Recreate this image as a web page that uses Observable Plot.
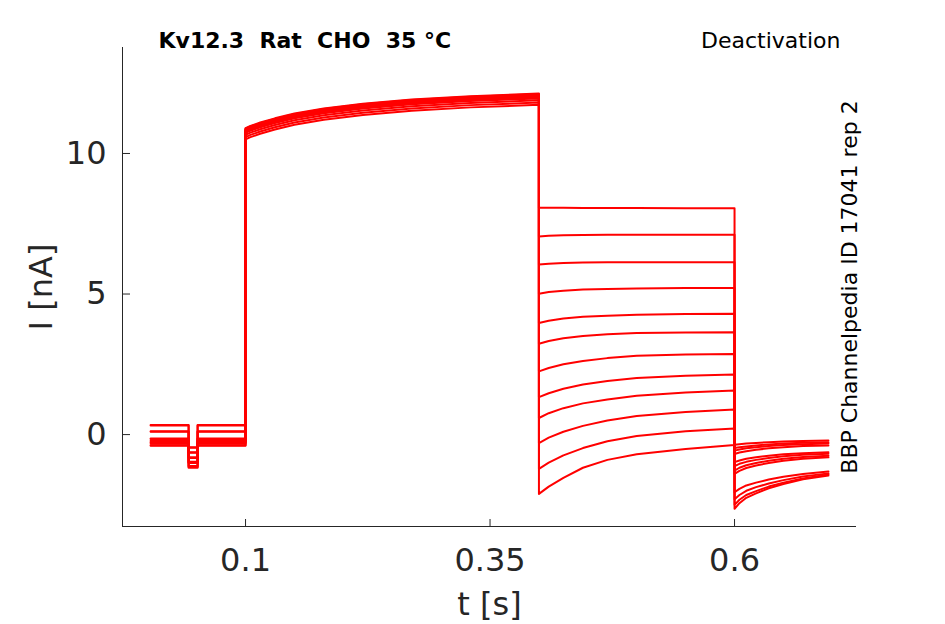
<!DOCTYPE html>
<html><head><meta charset="utf-8">
<script src="https://cdn.jsdelivr.net/npm/d3@7"></script>
<script src="https://cdn.jsdelivr.net/npm/@observablehq/plot@0.6"></script>
<style>body{margin:0;background:#fff}</style>
</head><body><div id="chart"></div>
<script>
const xTicks = [0.1, 0.35, 0.6];
const yTicks = [0, 5, 10];
const xDomain = [-0.0258, 0.7247];
const yDomain = [-3.27, 13.77];

const titleText = "Kv12.3\u00a0\u00a0Rat\u00a0\u00a0CHO\u00a0\u00a035\u00a0°C";
const protocolText = "Deactivation";
const idText = "BBP Channelpedia ID 17041 rep 2";

// baseline segment (with short test pulse)
const tBase = [0.003, 0.0418, 0.0418, 0.051, 0.051, 0.1];
const baseline = [0.34, 0.32, 0.12, 0.10, -0.14, -0.16, -0.22, -0.26, -0.28, -0.33, -0.38, -0.40];
const dip = [-0.45, -0.47, -0.63, -0.65, -0.81, -0.83, -0.97, -0.99, -1.01, -1.12, -1.15, -1.18];

// activation step
const tAct = [0.1, 0.105, 0.115, 0.13, 0.15, 0.18, 0.22, 0.27, 0.33, 0.4];
const act = [
  [10.90, 10.98, 11.10, 11.25, 11.42, 11.60, 11.77, 11.92, 12.04, 12.13],
  [10.88, 10.96, 11.08, 11.23, 11.40, 11.58, 11.75, 11.90, 12.02, 12.11],
  [10.86, 10.94, 11.06, 11.21, 11.38, 11.56, 11.73, 11.88, 12.00, 12.09],
  [10.84, 10.92, 11.04, 11.19, 11.36, 11.54, 11.71, 11.86, 11.98, 12.07],
  [10.82, 10.90, 11.02, 11.17, 11.34, 11.52, 11.69, 11.84, 11.96, 12.05],
  [10.80, 10.88, 11.00, 11.15, 11.32, 11.50, 11.67, 11.82, 11.94, 12.03],
  [10.78, 10.86, 10.98, 11.13, 11.30, 11.48, 11.65, 11.80, 11.92, 12.01],
  [10.76, 10.84, 10.96, 11.11, 11.28, 11.46, 11.63, 11.78, 11.90, 11.99],
  [10.73, 10.81, 10.93, 11.08, 11.25, 11.43, 11.60, 11.75, 11.87, 11.96],
  [10.66, 10.74, 10.86, 11.01, 11.18, 11.36, 11.53, 11.68, 11.80, 11.89],
  [10.58, 10.66, 10.78, 10.93, 11.10, 11.28, 11.45, 11.60, 11.72, 11.81],
  [10.50, 10.58, 10.70, 10.85, 11.02, 11.20, 11.37, 11.52, 11.64, 11.73]
];

// deactivation steps
const tDeact = [0.4, 0.41, 0.425, 0.445, 0.47, 0.5, 0.55, 0.6];
const deact = [
  [8.07, 8.07, 8.07, 8.06, 8.06, 8.06, 8.05, 8.05],
  [7.05, 7.07, 7.09, 7.10, 7.11, 7.11, 7.11, 7.11],
  [6.05, 6.08, 6.10, 6.12, 6.13, 6.13, 6.13, 6.13],
  [5.01, 5.07, 5.12, 5.16, 5.18, 5.20, 5.21, 5.21],
  [3.97, 4.05, 4.13, 4.19, 4.23, 4.26, 4.29, 4.30],
  [3.23, 3.33, 3.43, 3.51, 3.57, 3.61, 3.63, 3.64],
  [2.25, 2.37, 2.50, 2.62, 2.72, 2.80, 2.85, 2.87],
  [1.33, 1.47, 1.63, 1.78, 1.91, 2.01, 2.09, 2.14],
  [0.59, 0.76, 0.94, 1.11, 1.25, 1.38, 1.50, 1.57],
  [-0.30, -0.11, 0.10, 0.31, 0.50, 0.66, 0.80, 0.89],
  [-1.22, -1.00, -0.74, -0.48, -0.24, -0.05, 0.12, 0.22],
  [-2.11, -1.85, -1.54, -1.18, -0.90, -0.70, -0.51, -0.37]
];

// tail
const tTail = [0.6, 0.605, 0.612, 0.622, 0.635, 0.65, 0.67, 0.696];
const tail = [
  [-2.64, -2.44, -2.25, -2.09, -1.91, -1.76, -1.59, -1.46],
  [-2.50, -2.32, -2.15, -2.01, -1.85, -1.71, -1.56, -1.42],
  [-2.30, -2.15, -2.00, -1.87, -1.74, -1.62, -1.49, -1.38],
  [-2.05, -1.93, -1.81, -1.71, -1.60, -1.50, -1.40, -1.31],
  [-1.40, -1.29, -1.19, -1.10, -1.01, -0.93, -0.86, -0.81],
  [-1.28, -1.18, -1.09, -1.01, -0.93, -0.86, -0.80, -0.75],
  [-1.12, -1.04, -0.97, -0.90, -0.83, -0.77, -0.72, -0.68],
  [-0.98, -0.92, -0.86, -0.81, -0.75, -0.70, -0.66, -0.63],
  [-0.69, -0.64, -0.59, -0.54, -0.49, -0.45, -0.41, -0.39],
  [-0.57, -0.53, -0.49, -0.45, -0.41, -0.37, -0.34, -0.32],
  [-0.48, -0.45, -0.42, -0.39, -0.35, -0.32, -0.29, -0.27],
  [-0.36, -0.34, -0.32, -0.30, -0.27, -0.25, -0.23, -0.21]
];

const rows = [];
baseline.forEach((b, i) => {
  const baseVals = [b, b, dip[i], dip[i], b, b];
  tBase.forEach((t, j) => rows.push({sweep: i, t, I: baseVals[j]}));
  tAct.forEach((t, j) => rows.push({sweep: i, t, I: act[i][j]}));
  tDeact.forEach((t, j) => rows.push({sweep: i, t, I: deact[i][j]}));
  tTail.forEach((t, j) => rows.push({sweep: i, t, I: tail[i][j]}));
});

const W = 945, H = 624, mL = 122, mR = 89, mT = 47, mB = 98;
const innerW = W - mL - mR, innerH = H - mT - mB;
const axisColor = "#262626";

const chart = Plot.plot({
  width: W, height: H,
  marginLeft: mL, marginRight: mR, marginTop: mT, marginBottom: mB,
  style: {fontFamily: "DejaVu Sans", background: "#fff", color: axisColor, overflow: "visible"},
  x: {domain: xDomain},
  y: {domain: yDomain},
  marks: [
    Plot.line(rows, {x: "t", y: "I", z: "sweep", stroke: "#ff0000", strokeWidth: 2}),
    Plot.ruleX([xDomain[0]], {stroke: axisColor, strokeWidth: 1}),
    Plot.ruleY([yDomain[0]], {stroke: axisColor, strokeWidth: 1}),
    Plot.tickX(xTicks, {x: d => d, insetTop: innerH - 7, stroke: axisColor}),
    Plot.tickY(yTicks, {y: d => d, insetRight: innerW - 8, stroke: axisColor}),
    Plot.axisX(xTicks, {tickSize: 0, tickPadding: 22, fontSize: 32, tickFormat: d => String(d), label: null}),
    Plot.axisY(yTicks, {tickSize: 0, tickPadding: 16, fontSize: 32, label: null}),
    Plot.text(["t [s]"], {text: d => d, frameAnchor: "bottom", lineAnchor: "middle", textAnchor: "middle", dy: 78, fontSize: 32, fill: axisColor}),
    Plot.text(["I [nA]"], {text: d => d, frameAnchor: "left", lineAnchor: "middle", textAnchor: "middle", dx: -81, rotate: -90, fontSize: 32, fill: axisColor}),
    Plot.text([titleText], {text: d => d, frameAnchor: "top-left", lineAnchor: "middle", textAnchor: "start", dx: 36, dy: -7, fontSize: 22, fontWeight: "bold", fill: "#000"}),
    Plot.text([protocolText], {text: d => d, frameAnchor: "top-right", lineAnchor: "middle", textAnchor: "end", dx: -16, dy: -7, fontSize: 22, fill: "#000"}),
    Plot.text([idText], {text: d => d, frameAnchor: "right", lineAnchor: "middle", textAnchor: "middle", dx: -7, rotate: -90, fontSize: 22, fill: "#000"})
  ]
});
document.getElementById("chart").appendChild(chart);
</script>
</body></html>
